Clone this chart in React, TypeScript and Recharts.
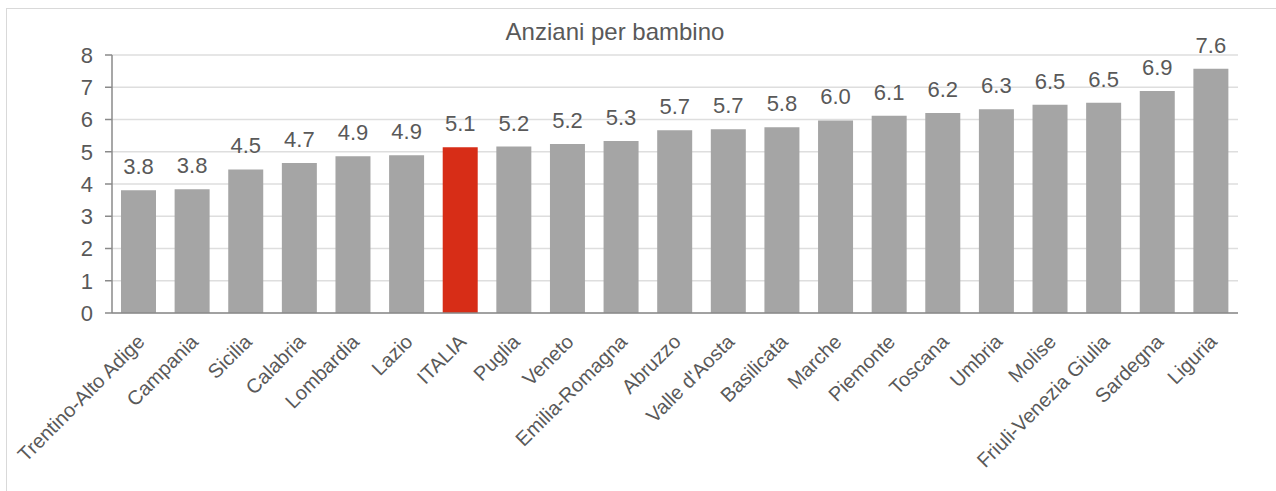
import { BarChart, Bar, XAxis, YAxis, CartesianGrid, Cell, LabelList } from "recharts";

const regions = [
  "Trentino-Alto Adige", "Campania", "Sicilia", "Calabria", "Lombardia", "Lazio", "ITALIA",
  "Puglia", "Veneto", "Emilia-Romagna", "Abruzzo", "Valle d'Aosta", "Basilicata", "Marche",
  "Piemonte", "Toscana", "Umbria", "Molise", "Friuli-Venezia Giulia", "Sardegna", "Liguria",
];
const values = [
  3.81, 3.84, 4.45, 4.65, 4.86, 4.89, 5.14,
  5.16, 5.24, 5.33, 5.67, 5.70, 5.76, 5.97,
  6.12, 6.20, 6.32, 6.46, 6.52, 6.88, 7.57,
];
const yTicks = [0, 1, 2, 3, 4, 5, 6, 7, 8];
const highlight = "ITALIA";

const data = regions.map((name, i) => ({ name, value: values[i] }));

const FONT = "'Liberation Sans', Arial, sans-serif";
const TEXT = "#595959";

const RegionTick = (props: any) => {
  const { x, y, payload } = props;
  const ax = x + 7;
  const ay = y + 30;
  return (
    <text
      x={ax}
      y={ay}
      transform={`rotate(-45, ${ax}, ${ay})`}
      textAnchor="end"
      fill={TEXT}
      fontSize={20}
      fontFamily={FONT}
    >
      {payload.value}
    </text>
  );
};

export default function App() {
  return (
    <div style={{ position: "fixed", left: 0, top: 0, width: 1276, height: 491, background: "#fff", overflow: "hidden" }}>
      <div
        style={{
          position: "absolute", left: 6, top: 8, width: 1280, height: 500,
          border: "1px solid #d9d9d9", boxSizing: "border-box",
        }}
      />
      <div
        style={{
          position: "absolute", left: 0, top: 20, width: 1230, textAlign: "center",
          fontFamily: FONT, fontSize: 24, lineHeight: "24px", color: TEXT,
        }}
      >
        Anziani per bambino
      </div>
      <div style={{ position: "absolute", left: 7, top: 9 }}>
        <BarChart
          width={1269}
          height={482}
          data={data}
          margin={{ top: 46, right: 38, bottom: 8, left: 0 }}
          barSize={35}
        >
          <CartesianGrid vertical={false} stroke="#dedede" strokeWidth={1.5} />
          <XAxis
            dataKey="name"
            interval={0}
            height={170}
            tickLine={false}
            tickSize={0}
            tickMargin={0}
            stroke="#8a8a8a"
            strokeWidth={1.5}
            tick={<RegionTick />}
          />
          <YAxis
            width={105}
            domain={[0, 8]}
            ticks={yTicks}
            interval={0}
            tickSize={7}
            tickMargin={12}
            stroke="#8a8a8a"
            strokeWidth={1.5}
            tick={{ fill: TEXT, fontSize: 22, fontFamily: FONT }}
          />
          <Bar dataKey="value" isAnimationActive={false}>
            {data.map((d, i) => (
              <Cell key={`c-${i}`} fill={d.name === highlight ? "#d72d17" : "#a5a5a5"} />
            ))}
            <LabelList
              dataKey="value"
              position="top"
              offset={16}
              formatter={(v: any) => Number(v).toFixed(1)}
              fill={TEXT}
              fontSize={22}
              fontFamily={FONT}
            />
          </Bar>
        </BarChart>
      </div>
    </div>
  );
}
